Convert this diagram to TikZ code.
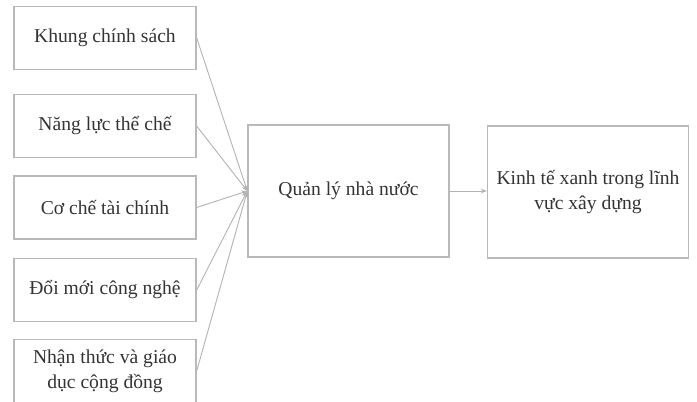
\documentclass[tikz,border=0pt]{standalone}
\usepackage{fontspec}
\setmainfont{Liberation Serif}
\usetikzlibrary{arrows.meta}
\begin{document}
\begin{tikzpicture}[x=0.5pt, y=-0.5pt, >={Stealth[length=3pt,width=2.4pt]},
    factor/.style={draw=gray!55, line width=0.7pt, minimum width=91pt, minimum height=31.5pt, inner sep=0pt, align=center, text=black!80, font=\fontsize{9.8}{12.5}\selectfont},
    mainbox/.style={factor, minimum width=100.5pt, minimum height=66pt},
    link/.style={draw=gray!60, line width=0.45pt, ->}]
  \useasboundingbox (0,0) rectangle (697,402);

  \node[factor] (khung) at (105,38) {Khung chính sách};
  \node[factor] (nangluc) at (105,126) {Năng lực thể chế};
  \node[factor] (coche) at (105,207.5) {Cơ chế tài chính};
  \node[factor] (doimoi) at (105,290) {Đổi mới công nghệ};
  \node[factor] (nhanthuc) at (105,371) {Nhận thức và giáo\\dục cộng đồng};

  \node[mainbox] (qlnn) at (348.5,191) {Quản lý nhà nước};
  \node[mainbox] (ktx) at (588,192) {Kinh tế xanh trong lĩnh\\vực xây dựng};

  \draw[link] (khung.east) -- (qlnn.west);
  \draw[link] (nangluc.east) -- (qlnn.west);
  \draw[link] (coche.east) -- (qlnn.west);
  \draw[link] (doimoi.east) -- (qlnn.west);
  \draw[link] (nhanthuc.east) -- (qlnn.west);
  \draw[link] (qlnn.east) -- (qlnn.east -| ktx.west);
\end{tikzpicture}
\end{document}
